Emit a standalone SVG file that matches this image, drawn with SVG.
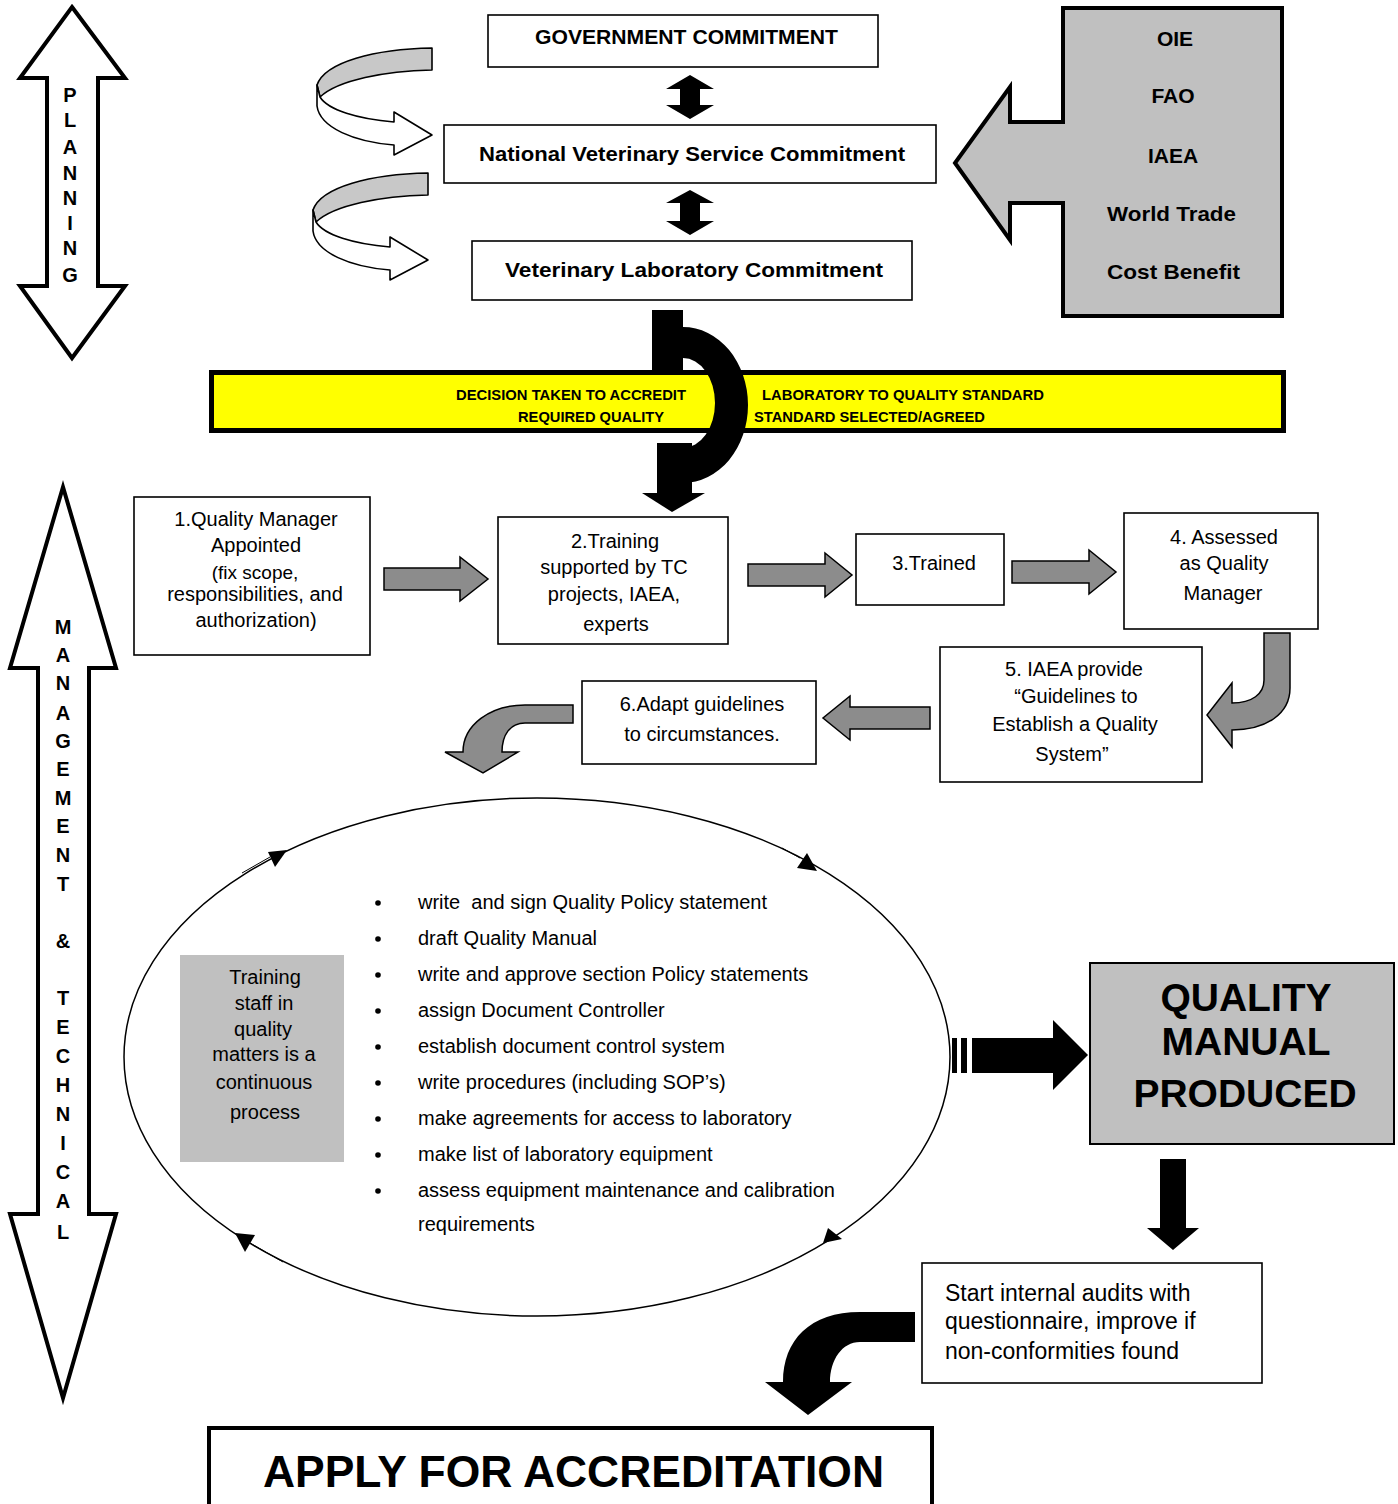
<svg xmlns="http://www.w3.org/2000/svg" width="1398" height="1504" viewBox="0 0 1398 1504">
<style>
.t{font-family:"Liberation Sans",Arial,sans-serif;font-size:20px;fill:#000}
.b{font-weight:bold}
.c{text-anchor:middle}
.box{fill:#fff;stroke:#000;stroke-width:1.6}
.garrow{fill:#8c8c8c;stroke:#000;stroke-width:1.5}
.blk{fill:#000;stroke:none}
.big{fill:#fff;stroke:#000;stroke-width:4;stroke-linejoin:miter}
.vl{font-family:"Liberation Sans",Arial,sans-serif;font-size:20px;font-weight:bold;text-anchor:middle}
</style>
<rect width="1398" height="1504" fill="#fff"/>

<g id="planning">
<path class="big" d="M72,7 L125,78 L98,78 L98,286 L125,286 L72,358 L20,286 L47,286 L47,78 L20,78 Z"/>
<text class="vl" x="70" y="102">P</text><text class="vl" x="70" y="127">L</text><text class="vl" x="70" y="154">A</text><text class="vl" x="70" y="180">N</text><text class="vl" x="70" y="205">N</text><text class="vl" x="70" y="230">I</text><text class="vl" x="70" y="255">N</text><text class="vl" x="70" y="282">G</text>
</g>

<g id="management">
<path class="big" d="M63,487 L116,668 L89,668 L89,1214 L116,1214 L63,1398 L10,1214 L38,1214 L38,668 L10,668 Z"/>
<text class="vl" x="63" y="634">M</text><text class="vl" x="63" y="662">A</text><text class="vl" x="63" y="690">N</text><text class="vl" x="63" y="720">A</text><text class="vl" x="63" y="748">G</text><text class="vl" x="63" y="776">E</text><text class="vl" x="63" y="805">M</text><text class="vl" x="63" y="833">E</text><text class="vl" x="63" y="862">N</text><text class="vl" x="63" y="891">T</text><text class="vl" x="63" y="948">&amp;</text><text class="vl" x="63" y="1005">T</text><text class="vl" x="63" y="1034">E</text><text class="vl" x="63" y="1063">C</text><text class="vl" x="63" y="1092">H</text><text class="vl" x="63" y="1121">N</text><text class="vl" x="63" y="1150">I</text><text class="vl" x="63" y="1179">C</text><text class="vl" x="63" y="1208">A</text><text class="vl" x="63" y="1239">L</text>
</g>

<g id="gov">
<rect class="box" x="488" y="15" width="390" height="52"/>
<text class="t b" x="535" y="44" textLength="303" lengthAdjust="spacingAndGlyphs">GOVERNMENT COMMITMENT</text>
</g>
<g id="nvs">
<rect class="box" x="444" y="125" width="492" height="58"/>
<text class="t b" x="479" y="161" style="font-size:21px" textLength="426" lengthAdjust="spacingAndGlyphs">National Veterinary Service Commitment</text>
</g>
<g id="vlc">
<rect class="box" x="472" y="241" width="440" height="59"/>
<text class="t b" x="505" y="277" style="font-size:21px" textLength="378" lengthAdjust="spacingAndGlyphs">Veterinary Laboratory Commitment</text>
</g>

<g id="influences">
<path d="M1063,8 H1282 V316 H1063 V203 H1010 V240 L955,163 L1010,87 V122 H1063 Z" fill="#c0c0c0" stroke="#000" stroke-width="4"/>
<text class="t b c" x="1175" y="46" style="font-size:21px">OIE</text>
<text class="t b c" x="1173" y="103" style="font-size:21px">FAO</text>
<text class="t b c" x="1173" y="163" style="font-size:21px">IAEA</text>
<text class="t b" x="1107" y="221" style="font-size:21px" textLength="129" lengthAdjust="spacingAndGlyphs">World Trade</text>
<text class="t b" x="1107" y="279" style="font-size:21px" textLength="133" lengthAdjust="spacingAndGlyphs">Cost Benefit</text>
</g>

<g id="banner">
<rect x="211.5" y="372.5" width="1072" height="58" fill="#ffff00" stroke="#000" stroke-width="5"/>
<text class="t b" x="456" y="400" style="font-size:15px" textLength="230" lengthAdjust="spacingAndGlyphs">DECISION TAKEN TO ACCREDIT</text>
<text class="t b" x="518" y="422" style="font-size:15px" textLength="146" lengthAdjust="spacingAndGlyphs">REQUIRED QUALITY</text>
<text class="t b" x="762" y="400" style="font-size:15px" textLength="282" lengthAdjust="spacingAndGlyphs">LABORATORY TO QUALITY STANDARD</text>
<text class="t b" x="754" y="422" style="font-size:15px" textLength="231" lengthAdjust="spacingAndGlyphs">STANDARD SELECTED/AGREED</text>
</g>

<g id="connectors">
<g id="ribbon1" stroke="#000" stroke-width="1.6" stroke-linejoin="round">
<path d="M432,48 C375,49 325,62 317,85 L320,97 C338,80 385,71 432,70 Z" fill="#c8c8c8"/>
<path d="M317,85 L317,106 C320,128 355,142 394,145 L394,155 L432,135 L394,112 L394,122 C358,119 328,110 320,97 Z" fill="#fff"/>
</g>
<g transform="translate(-4,125)" stroke="#000" stroke-width="1.6" stroke-linejoin="round">
<path d="M432,48 C375,49 325,62 317,85 L320,97 C338,80 385,71 432,70 Z" fill="#c8c8c8"/>
<path d="M317,85 L317,106 C320,128 355,142 394,145 L394,155 L432,135 L394,112 L394,122 C358,119 328,110 320,97 Z" fill="#fff"/>
</g>
<polygon class="blk" points="690,75 714,89 700,89 700,105 714,105 690,119 666,105 680,105 680,89 666,89"/>
<polygon class="blk" points="690,190 714,203 700,203 700,221 714,221 690,235 666,221 680,221 680,203 666,203"/>
<path class="blk" d="M683,327 A65,78 0 0 1 683,483 L683,448 A32,45 0 0 0 683,358 Z"/>
<rect class="blk" x="652" y="310" width="31" height="62"/>
<rect class="blk" x="657" y="443" width="35" height="51"/>
<polygon class="blk" points="642,493 705,493 672,512"/>
<polygon class="garrow" points="384,568 460,568 460,557 488,579 460,601 460,590 384,590"/>
<polygon class="garrow" points="748,564 825,564 825,553 852,575 825,597 825,586 748,586"/>
<polygon class="garrow" points="1012,561 1089,561 1089,550 1116,572 1089,594 1089,583 1012,583"/>
<polygon class="garrow" points="930,707 850,707 850,696 823,718 850,740 850,729 930,729"/>
<path class="garrow" d="M1264,633 L1290,633 L1290,688 C1290,714 1266,730 1232,730 L1232,747 L1207,715 L1232,683 L1232,703 C1252,703 1264,694 1264,680 Z"/>
<path class="garrow" d="M573,705 L573,723 L525,723 C510,723 502,735 502,752 L518,752 L483,773 L445,752 L463,752 C463,725 490,705 525,705 Z"/>
<polygon class="blk" points="268,852 287,850 275,867"/>
<line x1="242" y1="873" x2="270" y2="857" stroke="#000" stroke-width="1"/>
<polygon class="blk" points="797,868 807,853 817,871"/>
<line x1="782" y1="848" x2="800" y2="858" stroke="#000" stroke-width="1"/>
<polygon class="blk" points="235,1233 255,1235 245,1252"/>
<line x1="250" y1="1243" x2="283" y2="1262" stroke="#000" stroke-width="1"/>
<polygon class="blk" points="823,1243 828,1228 842,1239"/>
<rect class="blk" x="952" y="1038" width="5" height="35"/>
<rect class="blk" x="961" y="1038" width="6" height="35"/>
<path class="blk" d="M972,1038 H1053 V1020 L1088,1055 L1053,1090 V1073 H972 Z"/>
<polygon class="blk" points="1160,1159 1186,1159 1186,1228 1199,1228 1173,1250 1147,1228 1160,1228"/>
<path class="blk" d="M915,1312 L915,1342 L860,1342 C842,1342 830,1360 830,1382 L852,1382 L808,1415 L765,1382 L783,1382 C783,1340 810,1312 860,1312 Z"/>
</g>

<g id="n1">
<rect class="box" x="134" y="497" width="236" height="158"/>
<text class="t c" x="256" y="526">1.Quality Manager</text>
<text class="t c" x="256" y="552">Appointed</text>
<text class="t c" x="255" y="579" style="font-size:19px">(fix scope,</text>
<text class="t c" x="255" y="601">responsibilities, and</text>
<text class="t c" x="256" y="627">authorization)</text>
</g>
<g id="n2">
<rect class="box" x="498" y="517" width="230" height="127"/>
<text class="t c" x="615" y="548">2.Training</text>
<text class="t c" x="614" y="574">supported by TC</text>
<text class="t c" x="614" y="601">projects, IAEA,</text>
<text class="t c" x="616" y="631">experts</text>
</g>
<g id="n3">
<rect class="box" x="856" y="534" width="148" height="71"/>
<text class="t c" x="934" y="570">3.Trained</text>
</g>
<g id="n4">
<rect class="box" x="1124" y="513" width="194" height="116"/>
<text class="t c" x="1224" y="544">4. Assessed</text>
<text class="t c" x="1224" y="570">as Quality</text>
<text class="t c" x="1223" y="600">Manager</text>
</g>
<g id="n5">
<rect class="box" x="940" y="647" width="262" height="135"/>
<text class="t c" x="1074" y="676">5. IAEA provide</text>
<text class="t c" x="1076" y="703">“Guidelines to</text>
<text class="t c" x="1075" y="731">Establish a Quality</text>
<text class="t c" x="1072" y="761">System”</text>
</g>
<g id="n6">
<rect class="box" x="582" y="681" width="234" height="83"/>
<text class="t c" x="702" y="711">6.Adapt guidelines</text>
<text class="t c" x="702" y="741">to circumstances.</text>
</g>

<g id="cycle">
<ellipse cx="537" cy="1057" rx="413" ry="259" fill="none" stroke="#000" stroke-width="1.5"/>
<rect x="180" y="955" width="164" height="207" fill="#c0c0c0"/>
<text class="t c" x="265" y="984">Training</text>
<text class="t c" x="264" y="1010">staff in</text>
<text class="t c" x="263" y="1036">quality</text>
<text class="t c" x="264" y="1061">matters is a</text>
<text class="t c" x="264" y="1089">continuous</text>
<text class="t c" x="265" y="1119">process</text>
<g fill="#000">
<circle cx="378" cy="903" r="2.8"/><circle cx="378" cy="939" r="2.8"/><circle cx="378" cy="975" r="2.8"/><circle cx="378" cy="1011" r="2.8"/><circle cx="378" cy="1047" r="2.8"/><circle cx="378" cy="1083" r="2.8"/><circle cx="378" cy="1119" r="2.8"/><circle cx="378" cy="1155" r="2.8"/><circle cx="378" cy="1191" r="2.8"/>
</g>
<text class="t" x="418" y="909" xml:space="preserve">write  and sign Quality Policy statement</text>
<text class="t" x="418" y="945">draft Quality Manual</text>
<text class="t" x="418" y="981">write and approve section Policy statements</text>
<text class="t" x="418" y="1017">assign Document Controller</text>
<text class="t" x="418" y="1053">establish document control system</text>
<text class="t" x="418" y="1089">write procedures (including SOP’s)</text>
<text class="t" x="418" y="1125">make agreements for access to laboratory</text>
<text class="t" x="418" y="1161">make list of laboratory equipment</text>
<text class="t" x="418" y="1197">assess equipment maintenance and calibration</text>
<text class="t" x="418" y="1231">requirements</text>
</g>

<g id="qm">
<rect x="1090" y="963" width="304" height="181" fill="#c0c0c0" stroke="#000" stroke-width="2"/>
<text class="t b c" x="1246" y="1011" style="font-size:39px">QUALITY</text>
<text class="t b c" x="1246" y="1055" style="font-size:39px">MANUAL</text>
<text class="t b c" x="1245" y="1107" style="font-size:39px">PRODUCED</text>
</g>

<g id="audit">
<rect class="box" x="922" y="1263" width="340" height="120"/>
<text class="t" x="945" y="1301" style="font-size:23px">Start internal audits with</text>
<text class="t" x="945" y="1329" style="font-size:23px">questionnaire, improve if</text>
<text class="t" x="945" y="1359" style="font-size:23px">non-conformities found</text>
</g>

<g id="apply">
<rect x="209" y="1428" width="723" height="90" fill="#fff" stroke="#000" stroke-width="4"/>
<text class="t b" x="263" y="1487" style="font-size:45px" textLength="621" lengthAdjust="spacingAndGlyphs">APPLY FOR ACCREDITATION</text>
</g>
</svg>
